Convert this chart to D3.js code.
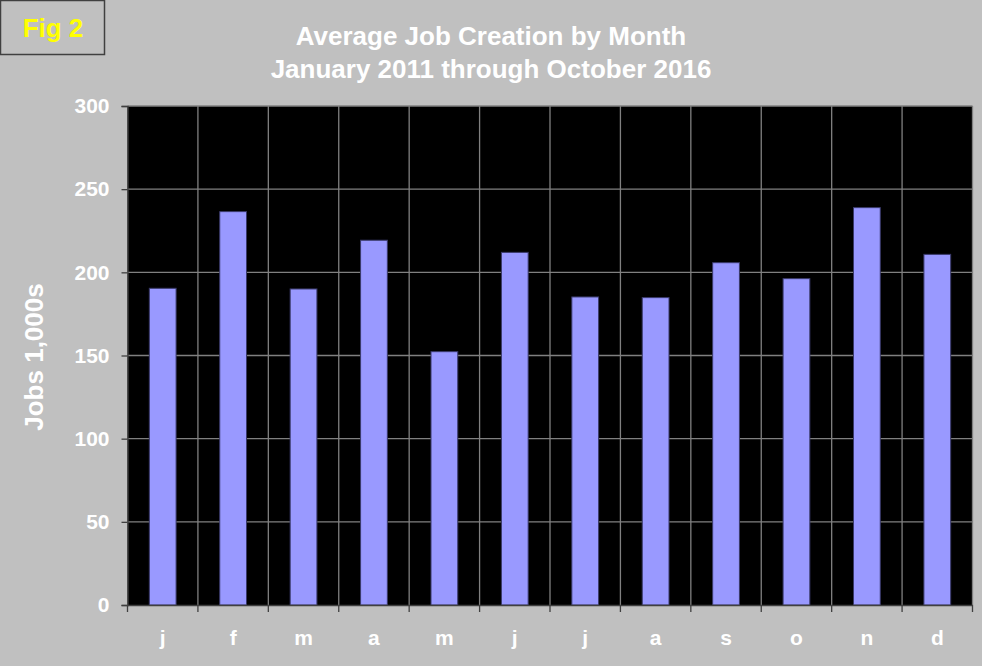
<!DOCTYPE html>
<html>
<head>
<meta charset="utf-8">
<script src="https://cdn.jsdelivr.net/npm/d3@7"></script>
<style>
  body { margin: 0; background: #c0c0c0; }
  text { font-family: "Liberation Sans", Arial, sans-serif; font-weight: bold; }
</style>
</head>
<body>
<script>
// months and average jobs created (thousands)
var months = ["j", "f", "m", "a", "m", "j", "j", "a", "s", "o", "n", "d"];
var jobs = [190.4, 236.5, 190, 219.3, 152.3, 212, 185.2, 184.8, 205.8, 196.2, 238.9, 210.8];
var yTicks = [0, 50, 100, 150, 200, 250, 300];
var titleLines = ["Average Job Creation by Month", "January 2011 through October 2016"];

var w = 982, h = 666;
// plot area edges (note: "top" is taken by window.top, so use other names)
var plotLeft = 127.5, plotRight = 972.5, plotTop = 106, plotBottom = 605;

var svg = d3.select("body").append("svg")
    .attr("width", w)
    .attr("height", h)
    .style("background-color", "#c0c0c0");

// fig label box in the corner
svg.append("rect")
    .attr("x", 0.5).attr("y", 0.5)
    .attr("width", 104).attr("height", 54)
    .style("fill", "none")
    .style("stroke", "#404040")
    .style("stroke-width", 1.5);
svg.append("text")
    .attr("x", 53).attr("y", 37)
    .attr("text-anchor", "middle")
    .style("font-size", "26px")
    .style("fill", "#ffff00")
    .text("Fig 2");

// title
svg.selectAll(".title")
    .data(titleLines)
    .enter()
    .append("text")
    .attr("class", "title")
    .attr("x", 491)
    .attr("y", function(d, i) { return 45 + i * 33; })
    .attr("text-anchor", "middle")
    .style("font-size", "26px")
    .style("fill", "#ffffff")
    .text(function(d) { return d; });

var x = d3.scaleBand()
    .domain(d3.range(months.length))
    .range([plotLeft, plotRight])
    .padding(0);

var y = d3.scaleLinear()
    .domain([0, 300])
    .range([plotBottom, plotTop]);

// plot background
svg.append("rect")
    .attr("x", plotLeft).attr("y", plotTop)
    .attr("width", plotRight - plotLeft).attr("height", plotBottom - plotTop)
    .style("fill", "#000000");

// horizontal grid
svg.selectAll(".hgrid")
    .data(yTicks.slice(1))
    .enter()
    .append("line")
    .attr("class", "hgrid")
    .attr("x1", plotLeft).attr("x2", plotRight)
    .attr("y1", function(d) { return y(d); })
    .attr("y2", function(d) { return y(d); })
    .style("stroke", "#808080")
    .style("stroke-width", 1.3);

// vertical grid at category boundaries
svg.selectAll(".vgrid")
    .data(d3.range(1, months.length + 1))
    .enter()
    .append("line")
    .attr("class", "vgrid")
    .attr("x1", function(d) { return x(0) + d * x.bandwidth(); })
    .attr("x2", function(d) { return x(0) + d * x.bandwidth(); })
    .attr("y1", plotTop).attr("y2", plotBottom)
    .style("stroke", "#808080")
    .style("stroke-width", 1.3);

// bars
var barW = x.bandwidth() * 0.38;
svg.selectAll(".bar")
    .data(jobs)
    .enter()
    .append("rect")
    .attr("class", "bar")
    .attr("x", function(d, i) { return x(i) + (x.bandwidth() - barW) / 2; })
    .attr("y", function(d) { return y(d); })
    .attr("width", barW)
    .attr("height", function(d) { return y(0) - y(d); })
    .style("fill", "#9999ff")
    .style("stroke", "#3a3a6a")
    .style("stroke-width", 1);

// y axis
var yAxis = svg.append("g")
    .attr("transform", "translate(" + plotLeft + ",0)")
    .call(d3.axisLeft(y).tickValues(yTicks).tickSize(6).tickPadding(12));
yAxis.select(".domain").style("stroke", "#404040").style("stroke-width", 1.3);
yAxis.selectAll(".tick line").style("stroke", "#404040").style("stroke-width", 1.3);
yAxis.selectAll(".tick text")
    .style("font-size", "21px")
    .style("font-family", "'Liberation Sans', Arial, sans-serif")
    .style("font-weight", "bold")
    .style("fill", "#ffffff");

// x axis
var xAxis = svg.append("g")
    .attr("transform", "translate(0," + plotBottom + ")")
    .call(d3.axisBottom(x).tickFormat(function(i) { return months[i]; }).tickSize(0).tickPadding(25));
xAxis.select(".domain").style("stroke", "#404040").style("stroke-width", 1.3);
xAxis.selectAll(".tick text")
    .style("font-size", "21px")
    .style("font-family", "'Liberation Sans', Arial, sans-serif")
    .style("font-weight", "bold")
    .style("fill", "#ffffff");

// x tick marks at category boundaries
svg.selectAll(".xtick")
    .data(d3.range(0, months.length + 1))
    .enter()
    .append("line")
    .attr("class", "xtick")
    .attr("x1", function(d) { return x(0) + d * x.bandwidth(); })
    .attr("x2", function(d) { return x(0) + d * x.bandwidth(); })
    .attr("y1", plotBottom).attr("y2", plotBottom + 7)
    .style("stroke", "#404040")
    .style("stroke-width", 1.3);

// y axis title
svg.append("text")
    .attr("transform", "translate(43,357) rotate(-90)")
    .attr("text-anchor", "middle")
    .style("font-size", "26px")
    .style("fill", "#ffffff")
    .text("Jobs 1,000s");
</script>
</body>
</html>
